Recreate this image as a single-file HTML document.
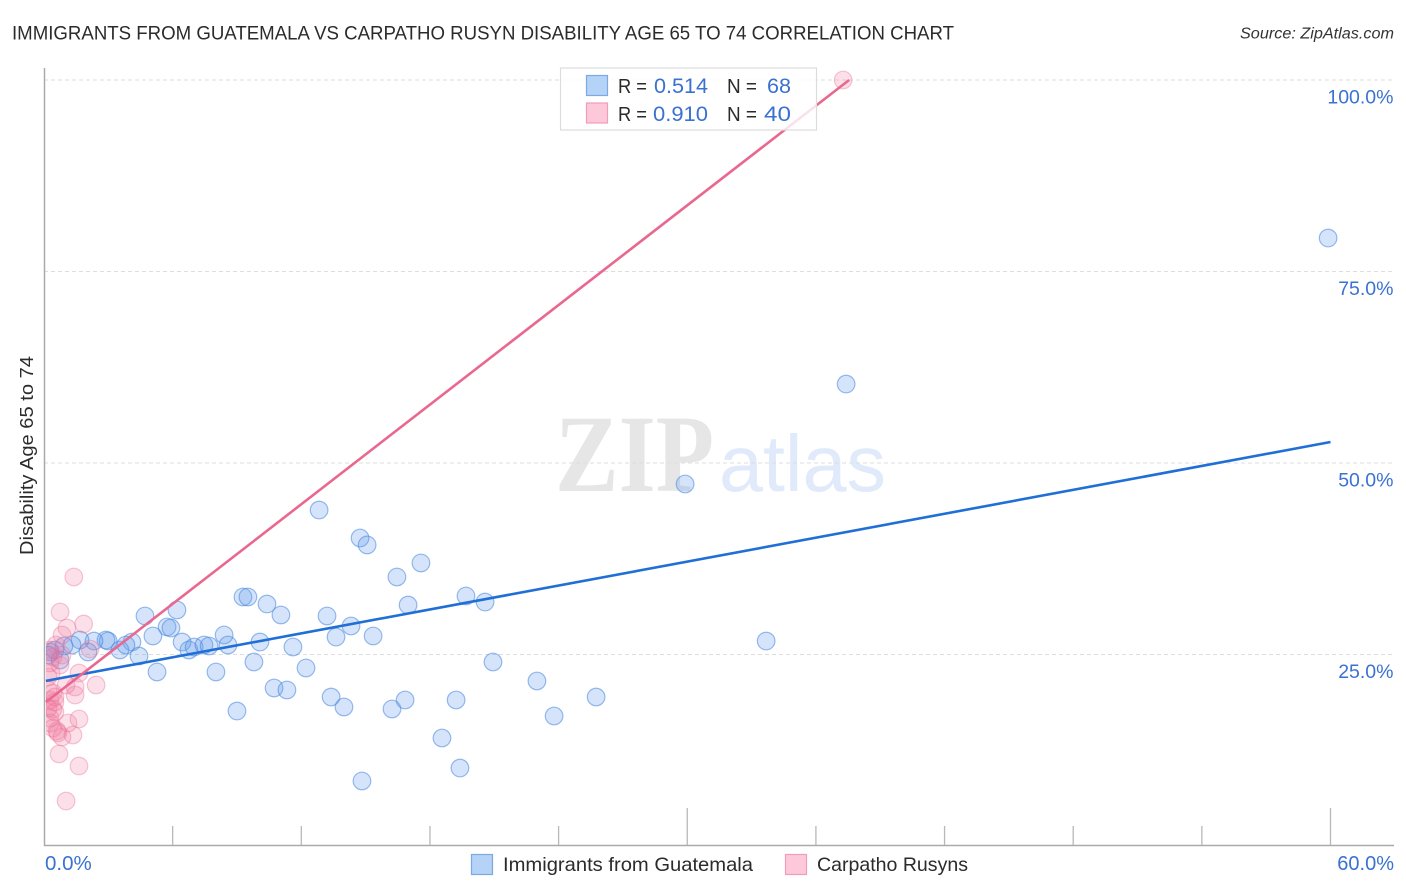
<!DOCTYPE html>
<html lang="en">
<head>
<meta charset="utf-8">
<title>Immigrants from Guatemala vs Carpatho Rusyn Disability Age 65 to 74 Correlation Chart</title>
<style>
html,body{margin:0;padding:0;background:#fff;}
body{width:1406px;height:892px;overflow:hidden;}
svg{display:block;font-family:"Liberation Sans",sans-serif;}
</style>
</head>
<body>
<svg id="chart" xmlns="http://www.w3.org/2000/svg" width="1406" height="892" viewBox="0 0 1406 892">
  <defs>
    <clipPath id="plot-clip"><rect x="46" y="60" width="1350" height="786"/></clipPath>
  </defs>
  <rect x="0" y="0" width="1406" height="892" fill="#ffffff"/>
  <text x="12" y="39.5" font-size="19.5" fill="#2b2b2b" textLength="942" lengthAdjust="spacingAndGlyphs">IMMIGRANTS FROM GUATEMALA VS CARPATHO RUSYN DISABILITY AGE 65 TO 74 CORRELATION CHART</text>
  <text x="1240" y="38.5" font-size="15.5" font-style="italic" fill="#333" textLength="154" lengthAdjust="spacingAndGlyphs">Source: ZipAtlas.com</text>
  <text x="555" y="491" font-family="'Liberation Serif',serif" font-weight="bold" font-size="110" fill="#e6e6e6" textLength="159" lengthAdjust="spacingAndGlyphs">ZIP</text>
  <text x="719" y="491" font-size="80" fill="#e0eafa" textLength="167" lengthAdjust="spacingAndGlyphs">atlas</text>
  <g id="grid"></g>
  <g id="axes"></g>
  <g id="points" clip-path="url(#plot-clip)"></g>
  <g id="lines"></g>
  <g id="labels"></g>
  <text transform="translate(33,555) rotate(-90)" font-size="18.5" fill="#2b2b2b" textLength="199" lengthAdjust="spacingAndGlyphs">Disability Age 65 to 74</text>

  <g>
    <rect x="560.5" y="68" width="256" height="62" fill="rgba(255,255,255,0.8)" stroke="#dcdcdc" stroke-width="1.2"/>
    <rect x="586.5" y="75.5" width="21" height="20" fill="#b5d2f7" stroke="#7aa9e3" stroke-width="1.2"/>
    <rect x="586.5" y="103" width="21" height="20" fill="#fdc8d9" stroke="#f09db7" stroke-width="1.2"/>
    <text x="618" y="93" font-size="20" fill="#2b2b2b" textLength="29" lengthAdjust="spacingAndGlyphs">R =</text>
    <text x="654" y="93" font-size="21" fill="#3a72d1" textLength="54" lengthAdjust="spacingAndGlyphs">0.514</text>
    <text x="727" y="93" font-size="20" fill="#2b2b2b" textLength="30" lengthAdjust="spacingAndGlyphs">N =</text>
    <text x="767" y="93" font-size="21" fill="#3a72d1" textLength="24" lengthAdjust="spacingAndGlyphs">68</text>
    <text x="618" y="121" font-size="20" fill="#2b2b2b" textLength="29" lengthAdjust="spacingAndGlyphs">R =</text>
    <text x="653" y="121" font-size="21" fill="#3a72d1" textLength="55" lengthAdjust="spacingAndGlyphs">0.910</text>
    <text x="727" y="121" font-size="20" fill="#2b2b2b" textLength="30" lengthAdjust="spacingAndGlyphs">N =</text>
    <text x="764" y="121" font-size="21" fill="#3a72d1" textLength="27" lengthAdjust="spacingAndGlyphs">40</text>
  </g>

  <g>
    <rect x="471.5" y="854.5" width="21" height="20" fill="#b5d2f7" stroke="#7aa9e3" stroke-width="1.2"/>
    <text x="503" y="871" font-size="19.5" fill="#2b2b2b" textLength="250" lengthAdjust="spacingAndGlyphs">Immigrants from Guatemala</text>
    <rect x="785.5" y="854.5" width="21" height="20" fill="#fdc8d9" stroke="#f09db7" stroke-width="1.2"/>
    <text x="817" y="871" font-size="19.5" fill="#2b2b2b" textLength="151" lengthAdjust="spacingAndGlyphs">Carpatho Rusyns</text>
  </g>
</svg>
<script>
var guatemalaX = [59.89,37.41,29.90,12.83,14.74,15.07,16.46,17.58,19.68,20.57,16.98,4.71,6.20,9.28,9.51,10.40,11.05,13.20,14.32,15.35,13.62,8.40,5.74,5.92,5.08,4.10,2.99,2.89,2.33,1.68,1.31,0.93,0.51,0.28,2.05,3.54,3.82,4.43,5.27,6.44,6.76,7.00,7.46,7.70,8.58,10.07,11.61,9.79,12.22,8.02,9.00,10.73,11.33,13.39,13.99,16.23,16.84,19.22,18.56,19.40,14.83,20.94,22.99,23.79,25.75,33.68,0.75,0.19];
var guatemalaY = [79.37,60.31,47.26,43.86,40.21,39.30,35.12,36.95,32.64,31.85,31.46,30.03,30.81,32.51,32.51,31.59,30.16,30.03,28.72,27.42,27.28,27.55,28.59,28.46,27.42,26.63,26.76,26.89,26.76,26.89,26.24,26.11,25.59,25.33,25.33,25.59,26.24,24.80,22.72,26.63,25.59,25.98,26.24,26.11,26.24,26.63,25.98,24.02,23.24,22.72,17.62,20.63,20.37,19.45,18.15,17.89,19.06,19.06,14.10,10.18,8.49,24.02,21.54,16.97,19.45,26.76,24.28,24.93];
var carpathoX = [37.27,1.39,0.75,1.85,1.07,0.84,1.63,2.43,1.45,1.03,1.45,1.63,1.12,1.35,0.84,0.61,0.70,1.63,1.03,2.15,0.28,0.42,0.28,0.75,0.33,0.19,0.42,0.51,0.28,0.51,0.42,0.51,0.28,0.42,0.65,0.19,0.84,0.56,0.19,0.28];
var carpathoY = [100.0,35.12,30.55,28.98,28.46,27.55,22.58,21.02,20.76,21.02,19.71,16.58,16.06,14.49,14.23,15.01,12.01,10.44,5.87,25.72,25.59,24.67,23.89,23.63,22.58,22.06,19.97,19.45,19.06,18.80,17.88,17.49,16.06,15.40,14.75,20.37,24.93,26.24,18.00,16.70];
var guatemalaTrendX = [0.09,60.0];
var guatemalaTrendY = [21.56,52.74];
var carpathoTrendX = [0.09,37.55];
var carpathoTrendY = [18.8,100.0];
var yTicks = [25,50,75,100];
var yTickLabels = ["25.0%","50.0%","75.0%","100.0%"];
var xTicks = [6,12,18,24,30,36,42,48,54,60];
var xMajorTicks = [30,60];
var xTickValues = [0,60];
var xTickLabels = ["0.0%","60.0%"];

function xScale(v){ return 44 + v * 1286.5 / 60; }
function yScale(v){ return 846 - v * 7.66; }
var NS = "http://www.w3.org/2000/svg";
var grid = document.getElementById("grid");
var axes = document.getElementById("axes");
var pointsGroup = document.getElementById("points");
var linesGroup = document.getElementById("lines");
var labelsGroup = document.getElementById("labels");

function makeLine(x1,y1,x2,y2,stroke,width){
  var l = document.createElementNS(NS,"line");
  l.setAttribute("x1",x1);
  l.setAttribute("y1",y1);
  l.setAttribute("x2",x2);
  l.setAttribute("y2",y2);
  l.setAttribute("stroke",stroke);
  l.setAttribute("stroke-width",width);
  return l;
}

yTicks.forEach(function(t,i){
  var g = makeLine(44,yScale(t),1393,yScale(t),"#dddddd",1.1);
  g.setAttribute("stroke-dasharray","4 3");
  
  
  grid.appendChild(g);
  var tx = document.createElementNS(NS,"text");
  tx.setAttribute("x",1393.5);
  tx.setAttribute("y",yScale(t)+23.5);
  tx.setAttribute("text-anchor","end");
  tx.setAttribute("font-size","19.5");
  tx.setAttribute("fill","#3a72d1");
  tx.textContent = yTickLabels[i];
  
  
  labelsGroup.appendChild(tx);
});

var yAxis = makeLine(44.5,68,44.5,846,"#aaaaaa",1.5);


axes.appendChild(yAxis);
var xAxis = makeLine(44,845.5,1394,845.5,"#aaaaaa",1.5);


axes.appendChild(xAxis);

xTicks.forEach(function(t){
  var top = xMajorTicks.indexOf(t) >= 0 ? 808 : 826;
  var m = makeLine(xScale(t),top,xScale(t),845,"#b8b8b8",1.3);
  
  
  axes.appendChild(m);
});

xTickValues.forEach(function(t,i){
  var tx = document.createElementNS(NS,"text");
  tx.setAttribute("x", i === 0 ? xScale(t)+1 : 1394);
  tx.setAttribute("y",870);
  tx.setAttribute("text-anchor", i === 0 ? "start" : "end");
  tx.setAttribute("font-size", i === 0 ? "20.5" : "20");
  tx.setAttribute("fill","#3a72d1");
  tx.textContent = xTickLabels[i];
  
  
  labelsGroup.appendChild(tx);
});

guatemalaX.forEach(function(v,i){
  var c = document.createElementNS(NS,"circle");
  c.setAttribute("cx",xScale(v));
  c.setAttribute("cy",yScale(guatemalaY[i]));
  c.setAttribute("r",8.8);
  c.setAttribute("fill","rgba(100,155,235,0.27)");
  c.setAttribute("stroke","rgba(70,135,220,0.55)");
  c.setAttribute("stroke-width","1.2");
  
  
  pointsGroup.appendChild(c);
});

carpathoX.forEach(function(v,i){
  var c = document.createElementNS(NS,"circle");
  c.setAttribute("cx",xScale(v));
  c.setAttribute("cy",yScale(carpathoY[i]));
  c.setAttribute("r",8.8);
  c.setAttribute("fill","rgba(240,115,155,0.22)");
  c.setAttribute("stroke","rgba(235,120,155,0.42)");
  c.setAttribute("stroke-width","1.2");
  
  
  pointsGroup.appendChild(c);
});

var blueLine = makeLine(xScale(guatemalaTrendX[0]),yScale(guatemalaTrendY[0]),xScale(guatemalaTrendX[1]),yScale(guatemalaTrendY[1]),"#1f6fd6",2.6);


linesGroup.appendChild(blueLine);
var pinkLine = makeLine(xScale(carpathoTrendX[0]),yScale(carpathoTrendY[0]),xScale(carpathoTrendX[1]),yScale(carpathoTrendY[1]),"#e9688f",2.6);


linesGroup.appendChild(pinkLine);
</script>
</body>
</html>
